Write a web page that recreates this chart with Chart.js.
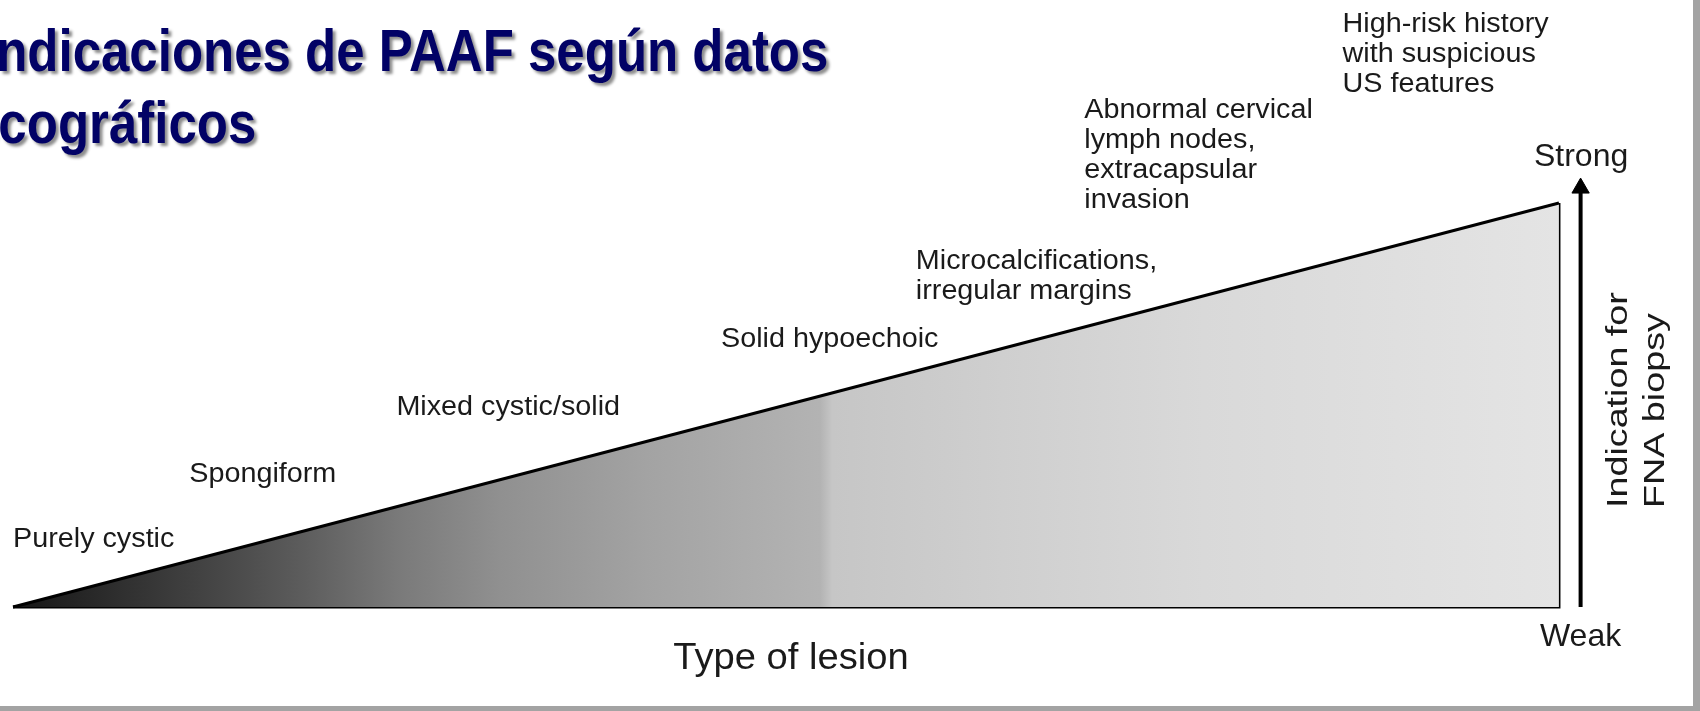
<!DOCTYPE html>
<html>
<head>
<meta charset="utf-8">
<script src="https://cdn.jsdelivr.net/npm/chart.js@4/dist/chart.umd.min.js"></script>
<style>
  html, body { margin: 0; padding: 0; background: #fff; overflow: hidden; }
  canvas { display: block; }
</style>
</head>
<body>
<canvas id="chart" width="1700" height="711"></canvas>
<script>
// ramp: type of lesion (x) vs indication for FNA biopsy (y)
const lesionAxis = [0, 100];
const indication = [0, 100];

// lesion types from weakest to strongest indication
const lesionTypes = [
    ['Purely cystic'],
    ['Spongiform'],
    ['Mixed cystic/solid'],
    ['Solid hypoechoic'],
    ['Microcalcifications,', 'irregular margins'],
    ['Abnormal cervical', 'lymph nodes,', 'extracapsular', 'invasion'],
    ['High-risk history', 'with suspicious', 'US features']
];

const axisTitleX = 'Type of lesion';
const axisTitleY = ['Indication for', 'FNA biopsy'];
const yTicks = ['Weak', 'Strong'];
const titleLines = ['Indicaciones de PAAF según datos', 'ecográficos'];

// where each lesion label sits (in ramp units)
const labelSpots = [[0, 16.8], [11.4, 32.9], [24.8, 49.3], [45.8, 66.1], [58.4, 85.6], [69.3, 123], [86.0, 144.3]];

const arrowX = 101.4;
const arrowTop = 103.7;

// grey ramp, dark on the left, light on the right
const shadeStops = [
    [0, '#151515'], [0.056, '#2a2a2a'], [0.142, '#4a4a4a'], [0.186, '#5c5c5c'],
    [0.25, '#7a7a7a'], [0.315, '#909090'], [0.41, '#a3a3a3'], [0.522, '#b3b3b3'],
    [0.53, '#c6c6c6'], [0.64, '#cfcfcf'], [0.77, '#d9d9d9'], [1, '#e4e4e4']
];

let grad = null;
function rampFill(ctx) {
    const chart = ctx.chart;
    if (!chart.chartArea) return '#999';
    if (!grad) {
        const xs = chart.scales.x;
        grad = chart.ctx.createLinearGradient(xs.getPixelForValue(lesionAxis[0]), 0, xs.getPixelForValue(lesionAxis[1]), 0);
        shadeStops.forEach(s => grad.addColorStop(s[0], s[1]));
    }
    return grad;
}

const decor = {
    id: 'decor',
    beforeDraw(chart) {
        const c = chart.ctx;
        c.save();
        c.fillStyle = '#ffffff';
        c.fillRect(0, 0, chart.width, chart.height);
        c.fillStyle = '#a3a3a3';
        c.fillRect(1693, 0, 7, chart.height);
        c.fillRect(0, 706, chart.width, 5);
        c.restore();
    },
    afterDatasetsDraw(chart) {
        const c = chart.ctx;
        const xs = chart.scales.x, ys = chart.scales.y;
        const x0 = xs.getPixelForValue(lesionAxis[0]);
        const x1 = xs.getPixelForValue(lesionAxis[1]);
        const yb = ys.getPixelForValue(indication[0]);
        const yt = ys.getPixelForValue(indication[1]);

        function stretched(text, x, y, sx) {
            c.save();
            c.translate(x, y);
            c.scale(sx, 1);
            c.fillText(text, 0, 0);
            c.restore();
        }

        c.save();
        c.fillStyle = '#1a1a1a';
        c.textBaseline = 'middle';
        c.textAlign = 'left';
        c.font = '27px "Liberation Sans", Arial, sans-serif';
        lesionTypes.forEach((lines, i) => {
            const px = xs.getPixelForValue(labelSpots[i][0]);
            const py = ys.getPixelForValue(labelSpots[i][1]);
            lines.forEach((t, j) => stretched(t, px, py + j * 30, 1.065));
        });

        c.font = '32px "Liberation Sans", Arial, sans-serif';
        c.fillText(yTicks[1], x1 - 25, yt - 46);
        c.fillText(yTicks[0], x1 - 19, yb + 30);

        c.textAlign = 'center';
        c.font = '36px "Liberation Sans", Arial, sans-serif';
        stretched(axisTitleX, (x0 + x1) / 2 + 5, yb + 52, 1.06);

        c.save();
        c.translate(1627, 508);
        c.rotate(-Math.PI / 2);
        c.scale(1.3, 1);
        c.textAlign = 'left';
        c.textBaseline = 'alphabetic';
        c.font = '29px "Liberation Sans", Arial, sans-serif';
        c.fillText(axisTitleY[0], 0, 0);
        c.fillText(axisTitleY[1], 0, 37);
        c.restore();

        // slide title
        c.textAlign = 'left';
        c.textBaseline = 'alphabetic';
        c.font = 'bold 60px "Liberation Sans Narrow", "Liberation Sans", Arial, sans-serif';
        c.shadowColor = 'rgba(0,0,0,0.45)';
        c.shadowOffsetX = 3;
        c.shadowOffsetY = 3;
        c.shadowBlur = 3;
        c.fillStyle = '#020266';
        stretched(titleLines[0], -18, 71, 0.85);
        stretched(titleLines[1], -30, 143, 0.85);
        c.restore();
    }
};

new Chart(document.getElementById('chart'), {
    type: 'scatter',
    data: {
        datasets: [
            {
                label: 'ramp',
                data: lesionAxis.map((x, i) => ({ x, y: indication[i] })),
                showLine: true,
                borderColor: '#000',
                borderWidth: 3,
                backgroundColor: rampFill,
                fill: 'origin',
                tension: 0,
                pointRadius: 0,
                clip: false
            },
            {
                label: 'edges',
                data: [
                    { x: lesionAxis[1], y: indication[1] },
                    { x: lesionAxis[1], y: indication[0] },
                    { x: lesionAxis[0], y: indication[0] }
                ],
                showLine: true,
                borderColor: '#000',
                borderWidth: 3,
                fill: false,
                pointRadius: 0,
                clip: false
            },
            {
                label: 'arrow',
                data: [{ x: arrowX, y: indication[0] }, { x: arrowX, y: arrowTop }],
                showLine: true,
                borderColor: '#000',
                borderWidth: 4,
                fill: false,
                pointStyle: 'triangle',
                pointRadius: [0, 10],
                pointBackgroundColor: '#000',
                pointBorderColor: '#000',
                pointBorderWidth: 1,
                clip: false
            }
        ]
    },
    options: {
        responsive: false,
        animation: false,
        devicePixelRatio: 1,
        layout: { padding: { left: 13, right: 79.2, top: 170.7, bottom: 104 } },
        scales: {
            x: { type: 'linear', min: 0, max: 104, display: false },
            y: { type: 'linear', min: 0, max: 108, display: false }
        },
        plugins: {
            legend: { display: false },
            tooltip: { enabled: false }
        }
    },
    plugins: [decor]
});
</script>
</body>
</html>
